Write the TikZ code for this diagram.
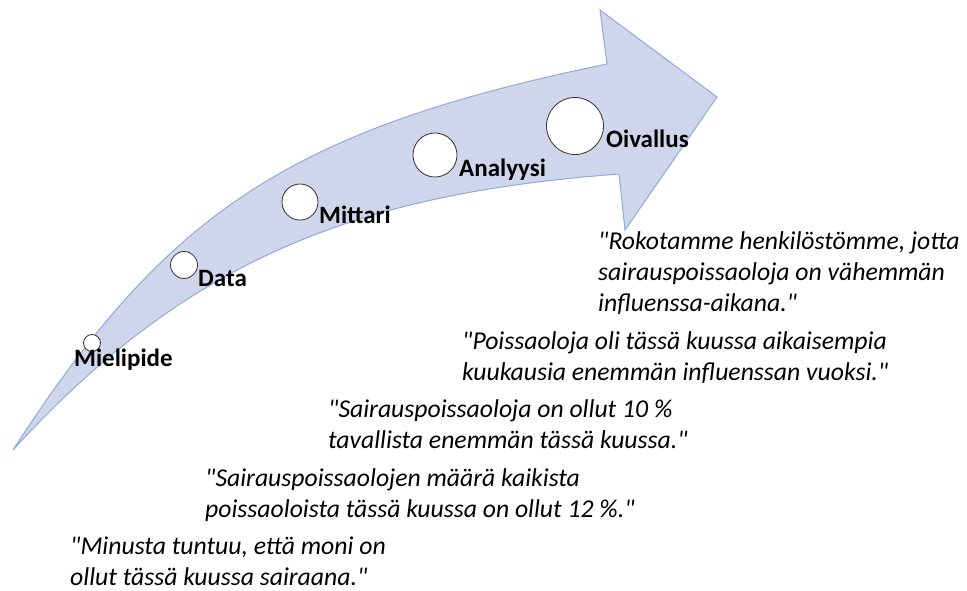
\documentclass[tikz,border=0pt]{standalone}
\usepackage{fontspec}
\setmainfont{Carlito}[Ligatures=TeXOff]
\definecolor{arrowfill}{RGB}{207,213,234}
\definecolor{arrowline}{RGB}{143,170,220}
\definecolor{ringline}{RGB}{50,50,50}
\begin{document}
\begin{tikzpicture}[x=1pt,y=-1pt,
  bigarrow/.style={fill=arrowfill,draw=arrowline,line width=1pt,line join=miter},
  stage/.style={circle,fill=white,draw=ringline,line width=0.8pt,inner sep=0pt},
  stagelabel/.style={anchor=base west,inner sep=0pt,font=\fontsize{25}{30}\selectfont\bfseries},
  quote/.style={anchor=base west,inner sep=0pt,align=left,font=\fontsize{25.7}{31}\selectfont\itshape}]
  \useasboundingbox (0,0) rectangle (967,590);

  % curved block arrow
  \path[bigarrow] (13,450) .. controls (165,215) and (286,130) .. (607,64)
    -- (600,10) -- (717,97) -- (625,230) -- (619,174)
    .. controls (369,193) and (193,252) .. cycle;

  % stages along the arrow
  \node[stage,minimum size=17pt] (c1) at (92,343) {};
  \node[stage,minimum size=27pt] (c2) at (184,265) {};
  \node[stage,minimum size=36pt] (c3) at (300,202) {};
  \node[stage,minimum size=44pt] (c4) at (435,155) {};
  \node[stage,minimum size=57pt] (c5) at (575,126) {};

  \node[stagelabel] (l1) at (74,366) {Mielipide};
  \node[stagelabel] (l2) at (198,286) {Data};
  \node[stagelabel] (l3) at (319,223) {Mittari};
  \node[stagelabel] (l4) at (459,176) {Analyysi};
  \node[stagelabel] (l5) at (606,147) {Oivallus};

  % example statements for each stage (positioned by their last baseline)
  \node[quote] (q5) at (598,311) {"Rokotamme henkilöstömme, jotta\\sairauspoissaoloja on vähemmän\\influenssa-aikana."};
  \node[quote] (q4) at (462,380) {"Poissaoloja oli tässä kuussa aikaisempia\\kuukausia enemmän influenssan vuoksi."};
  \node[quote] (q3) at (328,448) {"Sairauspoissaoloja on ollut 10 \%\\tavallista enemmän tässä kuussa."};
  \node[quote] (q2) at (205,517) {"Sairauspoissaolojen määrä kaikista\\poissaoloista tässä kuussa on ollut 12 \%."};
  \node[quote] (q1) at (70,585) {"Minusta tuntuu, että moni on\\ollut tässä kuussa sairaana."};
\end{tikzpicture}
\end{document}
